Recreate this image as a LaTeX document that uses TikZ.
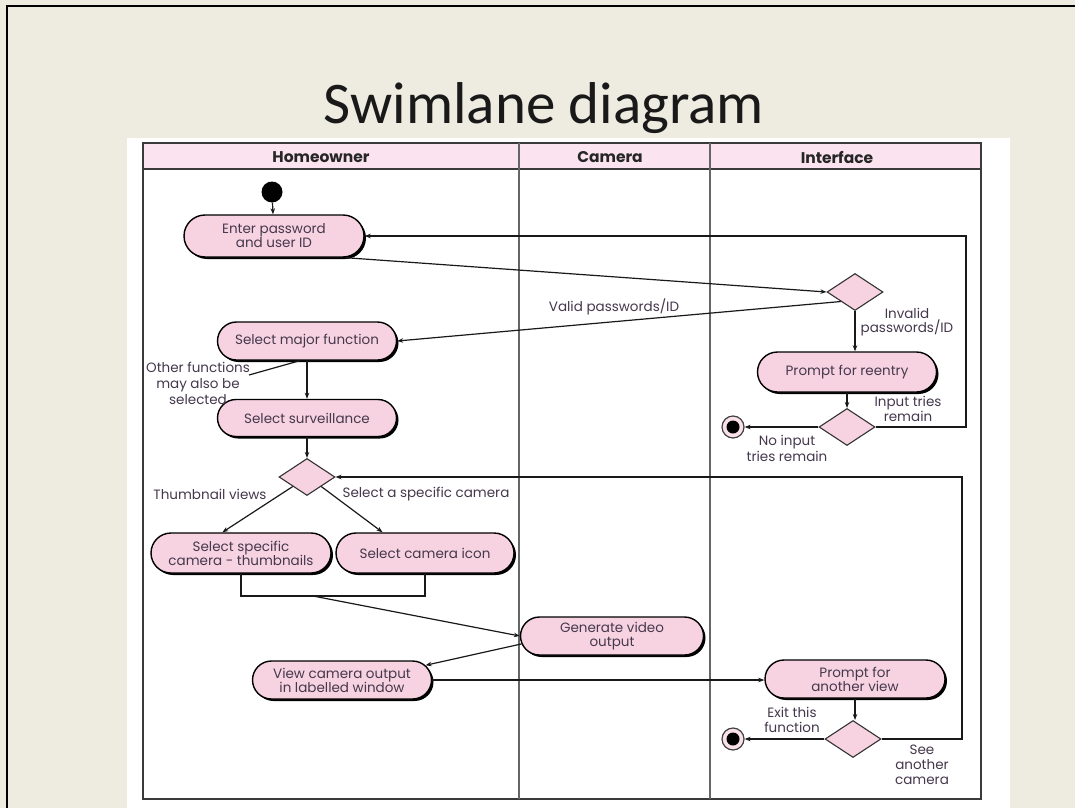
\documentclass[tikz,border=0pt]{standalone}
\usepackage{fontspec}
\setmainfont{Poppins}
\newfontfamily\titlefont{Carlito}
\usetikzlibrary{shapes.misc,shapes.geometric,shadows,arrows.meta,calc}

\definecolor{slidebg}{HTML}{EEEBE1}
\definecolor{nodepink}{HTML}{F7D3E1}
\definecolor{headpink}{HTML}{FBE4EF}
\definecolor{inktext}{HTML}{45384D}
\definecolor{framegray}{HTML}{3A3A3A}
\definecolor{lanegray}{HTML}{666666}

\tikzset{
  activity/.style={rounded rectangle, draw=black, line width=1.4pt, fill=nodepink,
    minimum height=38pt, minimum width=181pt, inner sep=1pt, align=center,
    font=\fontsize{13.5}{14}\selectfont, text=inktext,
    drop shadow={shadow xshift=2pt, shadow yshift=-2pt, fill=black, opacity=1}},
  choice/.style={diamond, draw=black!80, line width=1.1pt, fill=nodepink,
    minimum width=56pt, minimum height=37pt, inner sep=0pt},
  startdot/.style={circle, fill=black, minimum size=21pt, inner sep=0pt},
  enddot/.style={circle, draw=black!75, line width=1.2pt, fill=nodepink!70,
    minimum size=22pt, inner sep=0pt,
    path picture={\fill[black] (path picture bounding box.center) circle[radius=6.5pt];}},
  flow/.style={draw=black!90, line width=1.2pt, -{Stealth[length=6pt,width=4.5pt]}},
  plainline/.style={draw=black!90, line width=1.2pt},
  note/.style={align=center, text=inktext, inner sep=0pt},
  lanehead/.style={font=\bfseries\fontsize{15.5}{15.5}\selectfont, text=black!85, inner sep=0pt},
}

\begin{document}
\begin{tikzpicture}[x=1pt,y=-1pt]
  % slide background and border
  \useasboundingbox (0,0) rectangle (1075,808);
  \fill[slidebg] (0,0) rectangle (1075,808);
  \draw[black, line width=1.6pt] (7,808) -- (7,6) -- (1075,6);
  \fill[white] (127,138) rectangle (1010,808);

  % title
  \node[anchor=base, inner sep=0pt, font=\titlefont\fontsize{59}{62}\selectfont, text=black!90]
    (title) at (544,123) {Swimlane diagram};

  % swimlane frame and header
  \fill[headpink] (143,143) rectangle (981,169);
  \draw[framegray, line width=1.5pt] (143,143) rectangle (981,799);
  \draw[framegray, line width=1.3pt] (143,169) -- (981,169);
  \draw[lanegray, line width=1.4pt] (519,143) -- (519,799);
  \draw[lanegray, line width=1.4pt] (710,143) -- (710,799);
  \node[lanehead] (hHome) at (321,157) {Homeowner};
  \node[lanehead] (hCam) at (610,157) {Camera};
  \node[lanehead] (hIf) at (837,157) {Interface};

  % activities and decisions
  \node[startdot] (start) at (272,192) {};
  \node[activity, minimum width=182pt, minimum height=42pt] (enter) at (274,236) {Enter password\\and user ID};
  \node[choice] (d1) at (855,292) {};
  \node[activity] (major) at (307,341) {Select major function};
  \node[activity, minimum height=40pt] (reentry) at (847,372) {Prompt for reentry};
  \node[choice] (d2) at (847,427) {};
  \node[enddot] (end1) at (733,427) {};
  \node[activity, minimum height=37pt] (surv) at (307,418) {Select surveillance};
  \node[choice] (d3) at (307,477) {};
  \node[activity, minimum width=182pt, minimum height=40pt] (thumbs) at (241,553) {Select specific\\camera - thumbnails};
  \node[activity, minimum width=180pt, minimum height=40pt] (icon) at (425,553) {Select camera icon};
  \node[activity, minimum width=185pt] (gen) at (612,636) {Generate video\\output};
  \node[activity] (view) at (342,680) {View camera output\\in labelled window};
  \node[activity, minimum width=182pt] (prompt2) at (855,679) {Prompt for\\another view};
  \node[choice] (d4) at (853,739) {};
  \node[enddot] (end2) at (733,739) {};

  % helper points for the loops and the join
  \coordinate (loopA) at (966,236);
  \coordinate (loopB) at (962,477);
  \coordinate (joinY) at (0,596);
  \coordinate (joinM) at (313,596);
  \coordinate (otherTip) at (249,375);

  % connectors
  \draw[flow] (start) -- (enter);
  \draw[flow] (enter.-17) -- (d1.west);
  \draw[flow] (d1.south west) -- (major.east);
  \draw[flow] (d1.south) -- (d1.south |- reentry.north);
  \draw[flow] (reentry.south) -- (d2.north);
  \draw[flow] (d2.west) -- (end1.east);
  \draw[flow] (d2.east) -| (loopA) -- (enter.east);
  \draw[plainline] (major.250) -- (otherTip);
  \draw[flow] (major.south) -- (surv.north);
  \draw[flow] (surv.south) -- (d3.north);
  \draw[flow] (d3.south west) -- (thumbs.132);
  \draw[flow] (d3.south east) -- (icon.154);
  \draw[plainline] (thumbs.south) -- (thumbs.south |- joinY) -- (icon.south |- joinY) -- (icon.south);
  \draw[flow] (joinM) -- (gen.west);
  \draw[flow] (gen.185) -- (view.10);
  \draw[flow] (view.east) -- (view.east -| prompt2.west);
  \draw[flow] (prompt2.south) -- (prompt2.south |- d4.north);
  \draw[flow] (d4.west) -- (end2.east);
  \draw[flow] (d4.east) -| (loopB) -- (d3.east);

  % guard labels
  \node[note, font=\fontsize{13.5}{13.5}\selectfont] (lValid) at (614,307) {Valid passwords/ID};
  \node[note, font=\fontsize{13.5}{11.5}\selectfont] (lInvalid) at (907,322) {Invalid\\passwords/ID};
  \node[note, font=\fontsize{13.5}{12}\selectfont] (lTries) at (908,409) {Input tries\\remain};
  \node[note, font=\fontsize{13.5}{16}\selectfont] (lNoTries) at (787,448) {No input\\tries remain};
  \node[note, font=\fontsize{13.5}{16}\selectfont] (lOther) at (198,383) {Other functions\\may also be\\selected};
  \node[note, font=\fontsize{13.5}{13.5}\selectfont] (lThumb) at (210,494) {Thumbnail views};
  \node[note, font=\fontsize{13.5}{13.5}\selectfont] (lSpecific) at (426,494) {Select a specific camera};
  \node[note, font=\fontsize{13.5}{15}\selectfont] (lExit) at (792,720) {Exit this\\function};
  \node[note, font=\fontsize{13.5}{15}\selectfont] (lSee) at (922,765) {See\\another\\camera};
\end{tikzpicture}
\end{document}
